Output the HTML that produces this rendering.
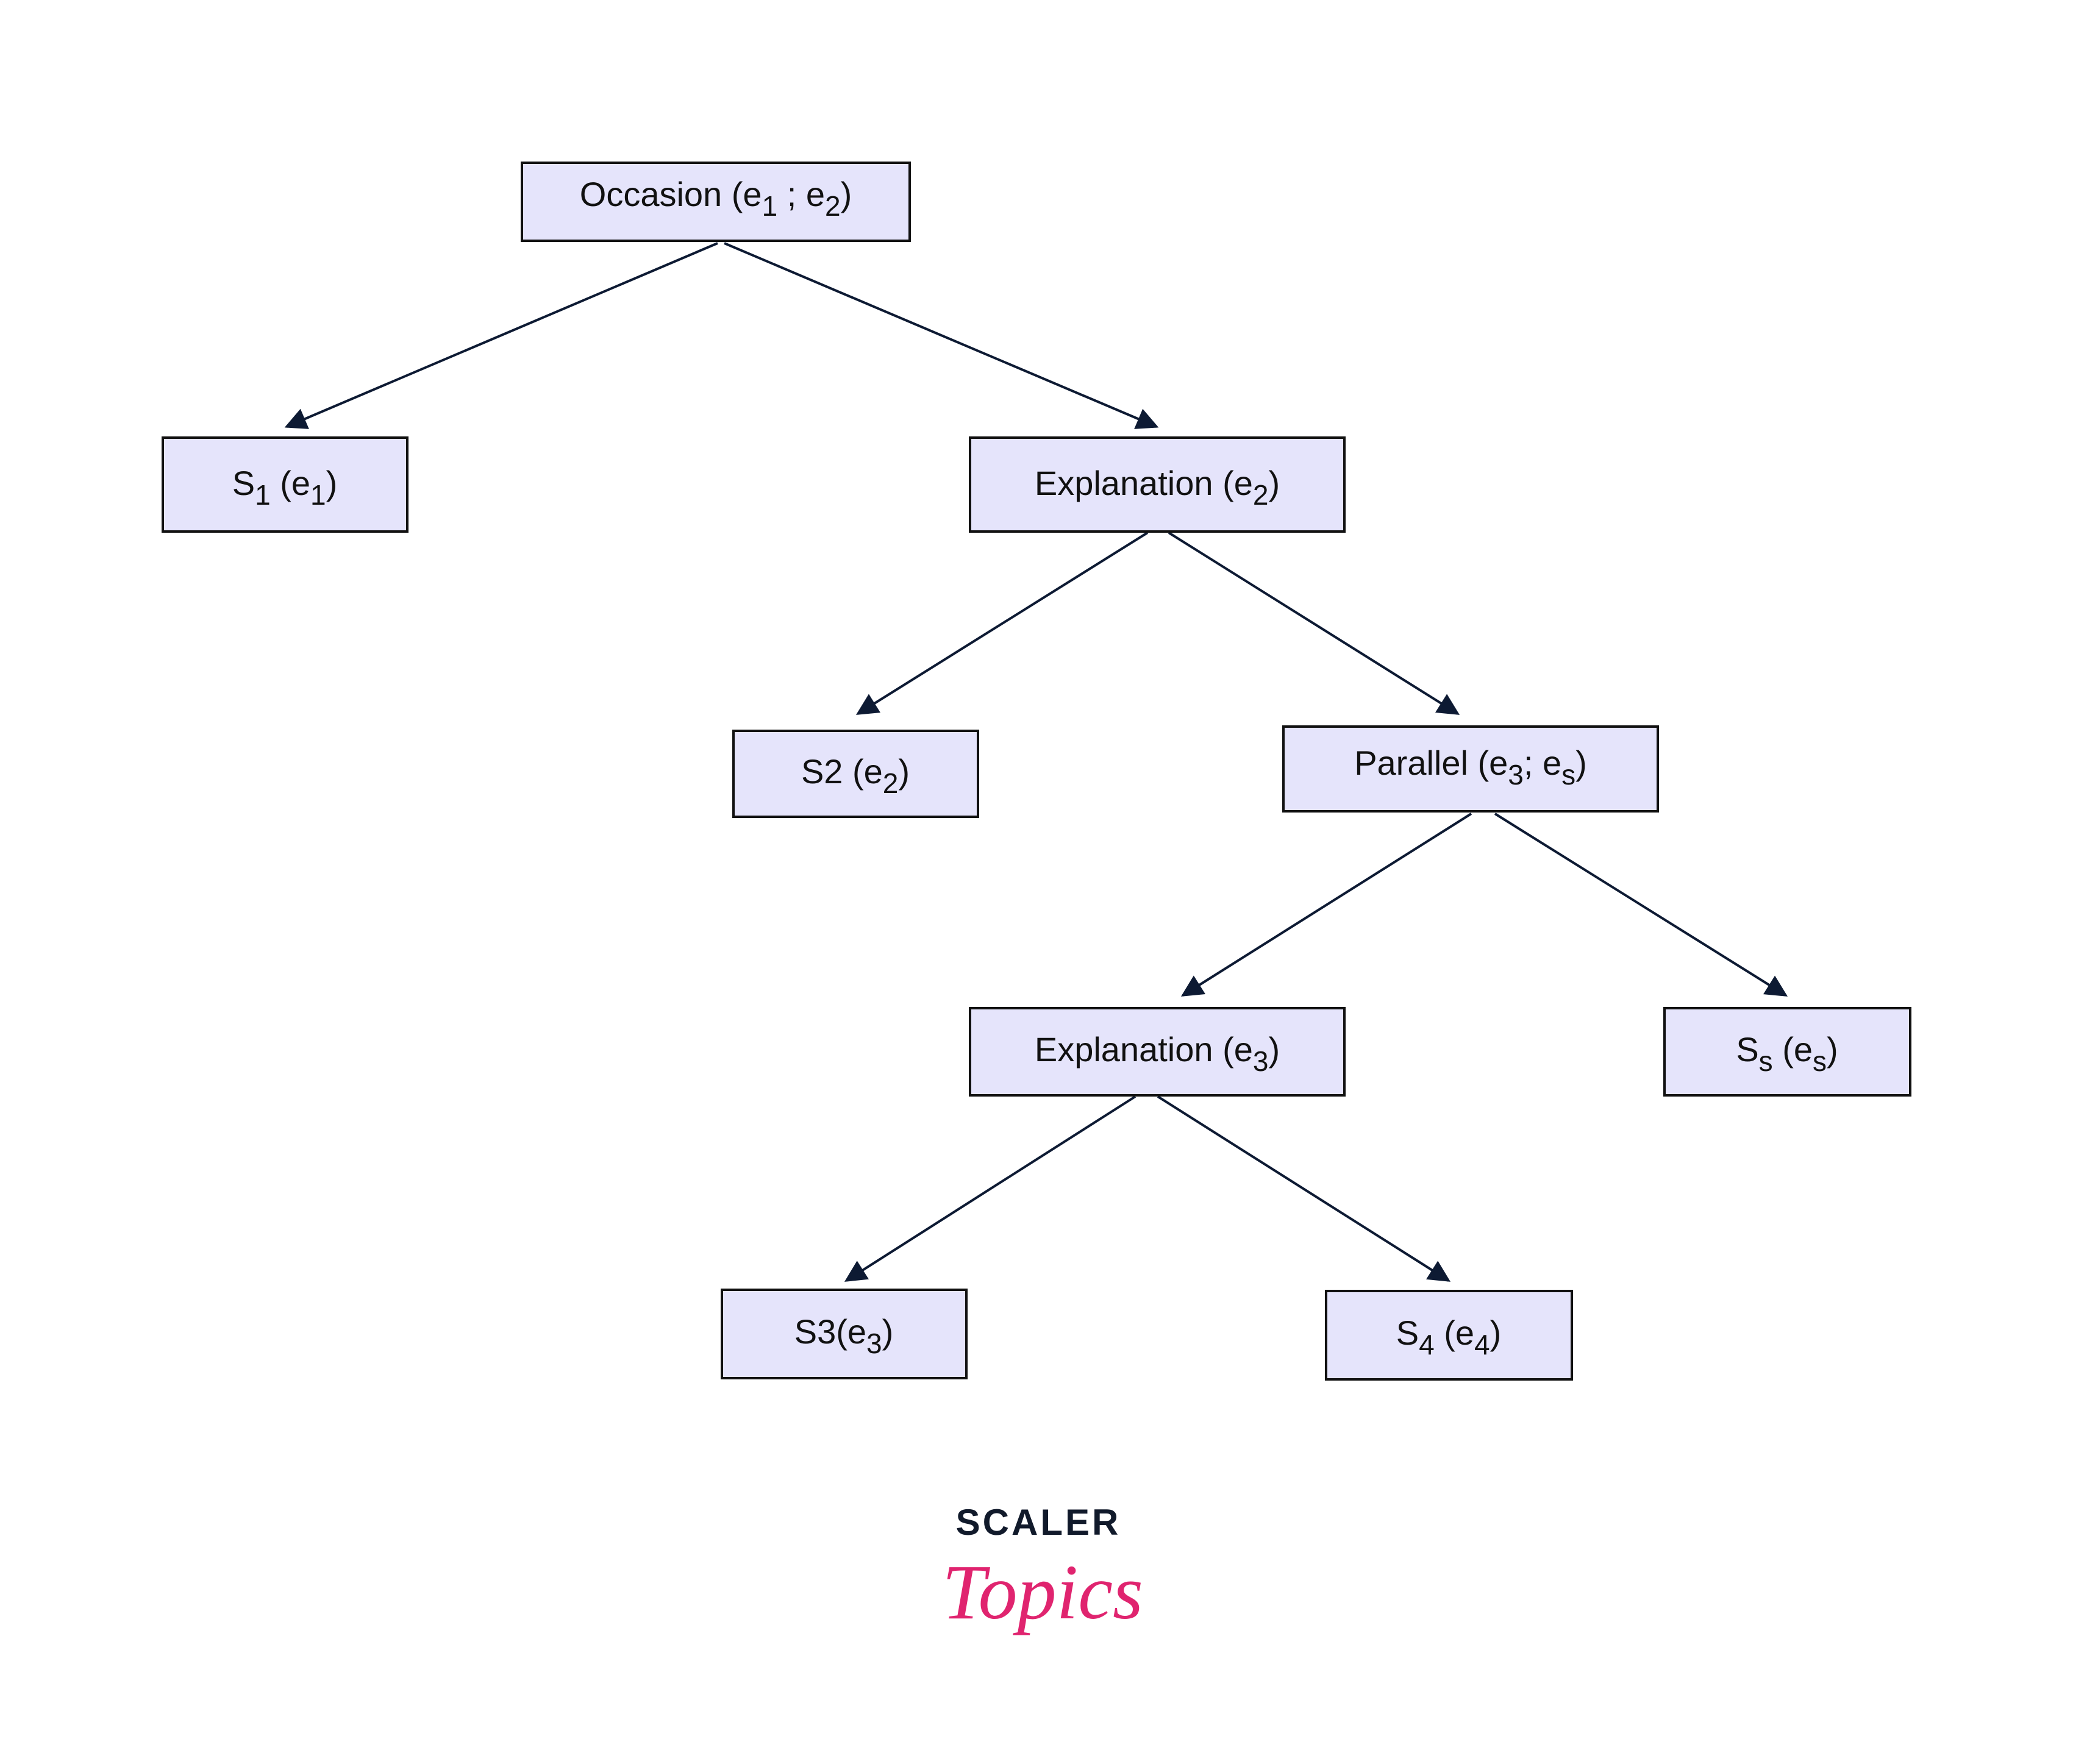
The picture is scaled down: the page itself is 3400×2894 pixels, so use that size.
<!DOCTYPE html>
<html><head><meta charset="utf-8"><style>
html,body{margin:0;padding:0;background:#fff;}
svg{display:block;}
text{font-family:"Liberation Sans","DejaVu Sans",sans-serif;fill:#111;}
</style></head><body>
<svg width="3400" height="2894" viewBox="0 0 3400 2894" xmlns="http://www.w3.org/2000/svg">
<defs>
<marker id="ah" viewBox="0 0 10 10" refX="9" refY="5" markerWidth="40" markerHeight="36" markerUnits="userSpaceOnUse" orient="auto">
<path d="M0,0 L10,5 L0,10 z" fill="#0d1a33"/>
</marker>
</defs>
<g stroke="#0d1a33" stroke-width="4" fill="none">
<line x1="1177" y1="399" x2="470" y2="700" marker-end="url(#ah)"/>
<line x1="1188" y1="399" x2="1897" y2="700" marker-end="url(#ah)"/>
<line x1="1882" y1="874" x2="1407" y2="1171" marker-end="url(#ah)"/>
<line x1="1917" y1="874" x2="2391" y2="1171" marker-end="url(#ah)"/>
<line x1="2413" y1="1335" x2="1940" y2="1633" marker-end="url(#ah)"/>
<line x1="2452" y1="1335" x2="2929" y2="1633" marker-end="url(#ah)"/>
<line x1="1862" y1="1799" x2="1388" y2="2101" marker-end="url(#ah)"/>
<line x1="1899" y1="1799" x2="2376" y2="2101" marker-end="url(#ah)"/>
</g>
<g fill="#e5e4fb" stroke="#111" stroke-width="4">
<rect x="856" y="267" width="636" height="128"/>
<rect x="267" y="718" width="401" height="154"/>
<rect x="1591" y="718" width="614" height="154"/>
<rect x="1203" y="1199" width="401" height="141"/>
<rect x="2105" y="1192" width="614" height="139"/>
<rect x="1591" y="1654" width="614" height="143"/>
<rect x="2730" y="1654" width="403" height="143"/>
<rect x="1184" y="2116" width="401" height="145"/>
<rect x="2175" y="2118" width="403" height="145"/>
</g>
<g font-size="56" text-anchor="middle">
<text x="1174" y="338">Occasion (e<tspan dy="16" font-size="46">1</tspan><tspan dy="-16"> ; e</tspan><tspan dy="16" font-size="46">2</tspan><tspan dy="-16">)</tspan></text>
<text x="467" y="812">S<tspan dy="16" font-size="46">1</tspan><tspan dy="-16">  (e</tspan><tspan dy="16" font-size="46">1</tspan><tspan dy="-16">)</tspan></text>
<text x="1898" y="812">Explanation (e<tspan dy="16" font-size="46">2</tspan><tspan dy="-16">)</tspan></text>
<text x="1403" y="1285">S2 (e<tspan dy="16" font-size="46">2</tspan><tspan dy="-16">)</tspan></text>
<text x="2412" y="1271">Parallel (e<tspan dy="16" font-size="46">3</tspan><tspan dy="-16">; e</tspan><tspan dy="16" font-size="46">s</tspan><tspan dy="-16">)</tspan></text>
<text x="1898" y="1741">Explanation (e<tspan dy="16" font-size="46">3</tspan><tspan dy="-16">)</tspan></text>
<text x="2931" y="1741">S<tspan dy="16" font-size="46">s</tspan><tspan dy="-16">  (e</tspan><tspan dy="16" font-size="46">s</tspan><tspan dy="-16">)</tspan></text>
<text x="1384" y="2204">S3(e<tspan dy="16" font-size="46">3</tspan><tspan dy="-16">)</tspan></text>
<text x="2376" y="2206">S<tspan dy="16" font-size="46">4</tspan><tspan dy="-16">  (e</tspan><tspan dy="16" font-size="46">4</tspan><tspan dy="-16">)</tspan></text>
</g>
<text x="1703" y="2518" font-size="60" font-weight="bold" text-anchor="middle" letter-spacing="4" style="fill:#111a2b">SCALER</text>
<text x="1710" y="2655" font-size="128" font-style="italic" text-anchor="middle" style="fill:#e0246f;font-family:'Liberation Serif',serif">Topics</text>
</svg>
</body></html>
